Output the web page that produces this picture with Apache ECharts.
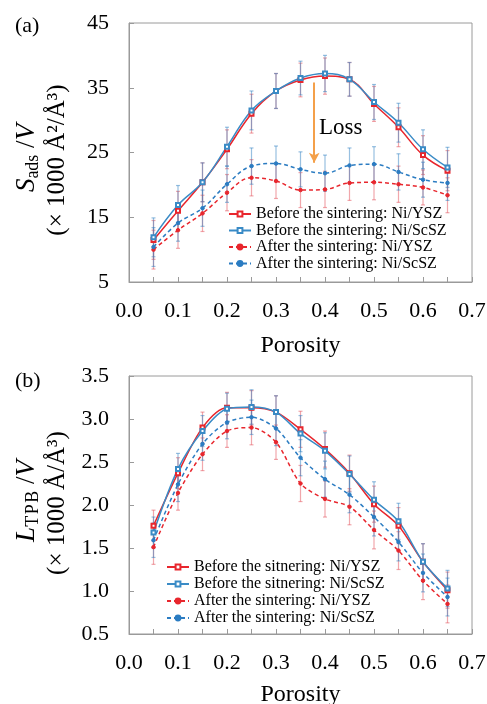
<!DOCTYPE html>
<html><head><meta charset="utf-8">
<script src="https://cdn.jsdelivr.net/npm/echarts@6/dist/echarts.min.js"></script>
<style>html,body{margin:0;padding:0;background:#fff}#c{width:487px;height:704px}</style>
</head><body><div id="c"></div>
<script>
const porosity = [0.05,0.10,0.15,0.20,0.25,0.30,0.35,0.40,0.45,0.50,0.55,0.60,0.65];
// (a) S_ads/V
const sBeforeYSZ  = [11.5,16.0,20.4,25.5,31.0,34.5,36.2,36.8,36.3,32.5,28.9,24.6,22.2];
const sBeforeScSZ = [11.9,16.9,20.4,25.9,31.5,34.5,36.5,37.2,36.3,32.8,29.6,25.5,22.7];
const sAfterYSZ   = [10.0,13.0,15.6,18.8,21.1,20.6,19.2,19.3,20.3,20.4,20.1,19.6,18.4];
const sAfterScSZ  = [10.4,14.1,16.4,20.1,22.9,23.3,22.4,21.8,23.0,23.2,22.0,20.8,20.3];
const sErrBefore  = [3.0,3.0,3.0,3.0,3.0,2.7,2.6,2.8,2.6,2.7,3.0,3.0,3.1];
const sErrAfter   = [3.0,2.8,2.8,2.8,2.8,2.7,2.7,2.8,2.7,2.7,2.8,2.7,2.7];
// (b) L_TPB/V
const lBeforeYSZ  = [1.76,2.37,2.90,3.13,3.13,3.08,2.88,2.65,2.37,2.01,1.76,1.34,1.01];
const lBeforeScSZ = [1.68,2.42,2.86,3.12,3.14,3.08,2.83,2.63,2.36,2.06,1.81,1.34,1.03];
const lAfterYSZ   = [1.51,2.14,2.59,2.86,2.90,2.73,2.25,2.07,1.98,1.71,1.47,1.12,0.85];
const lAfterScSZ  = [1.59,2.24,2.71,2.96,3.02,2.89,2.55,2.30,2.12,1.86,1.57,1.21,0.93];
const lErrBefore  = [0.18,0.18,0.18,0.18,0.20,0.19,0.21,0.21,0.21,0.21,0.21,0.21,0.21];
const lErrAfter   = [0.20,0.20,0.19,0.19,0.20,0.20,0.21,0.21,0.21,0.22,0.22,0.22,0.22];

const namesA = ['Before the sintering: Ni/YSZ','Before the sintering: Ni/ScSZ','After the sintering: Ni/YSZ','After the sintering: Ni/ScSZ'];
const namesB = ['Before the sitnering: Ni/YSZ','Before the sitnering: Ni/ScSZ','After the sintering: Ni/YSZ','After the sintering: Ni/ScSZ'];

const RED = '#e8262d', BLUE = '#3a8bc6', BLUE2 = '#2b7cc2';
const ERR_RED = 'rgba(228,80,90,0.5)', ERR_BLUE = 'rgba(50,130,195,0.5)';
const FONT = 'Liberation Serif';

const zip = (ys) => porosity.map((x,i)=>[x, ys[i]]);
const errData = (ys, es) => porosity.map((x,i)=>[x, ys[i]-es[i], ys[i]+es[i]]);

function errSeries(idx, ys, es, color){
  return {
    type:'custom', xAxisIndex:idx, yAxisIndex:idx, z:1, silent:true,
    data: errData(ys, es), encode:{x:0, y:[1,2]},
    renderItem:function(params, api){
      const lo = api.coord([api.value(0), api.value(1)]);
      const hi = api.coord([api.value(0), api.value(2)]);
      const w = 2;
      const st = {stroke: color, lineWidth: 1.2};
      return {type:'group', children:[
        {type:'line', shape:{x1:lo[0],y1:lo[1],x2:hi[0],y2:hi[1]}, style:st},
        {type:'line', shape:{x1:lo[0]-w,y1:lo[1],x2:lo[0]+w,y2:lo[1]}, style:st},
        {type:'line', shape:{x1:hi[0]-w,y1:hi[1],x2:hi[0]+w,y2:hi[1]}, style:st}
      ]};
    }
  };
}
function lineSeries(idx, name, ys, color, before, smooth){
  return {
    type:'line', name:name, xAxisIndex:idx, yAxisIndex:idx, z:3,
    data: zip(ys), smooth: smooth,
    symbol: before ? 'emptyRect' : 'circle', symbolSize: before ? 4 : 3.5,
    lineStyle:{color:color, width:1.5, type: before ? 'solid' : [4,3]},
    itemStyle:{color:color, borderColor:color, borderWidth:1},
    emphasis:{disabled:true}
  };
}

const axisGray = '#9a9a9a';
function xAxisCfg(idx, labelMargin, nameGap){
  return {
    type:'value', gridIndex:idx, min:0, max:0.7, interval:0.05,
    name:'Porosity', nameLocation:'middle', nameGap:nameGap,
    nameTextStyle:{fontFamily:FONT, fontSize:24, color:'#000'},
    axisLine:{lineStyle:{color:axisGray, width:1}},
    axisTick:{inside:true, length:5, lineStyle:{color:axisGray}},
    axisLabel:{fontFamily:FONT, fontSize:22, color:'#000', margin:labelMargin,
      formatter: v => (Math.round(v*100) % 10 === 0 ? v.toFixed(1) : '')},
    splitLine:{show:false}
  };
}
function yAxisCfg(idx, min, max, interval, dec){
  return {
    type:'value', gridIndex:idx, min:min, max:max, interval:interval,
    axisLine:{show:true, lineStyle:{color:axisGray, width:1}},
    axisTick:{show:true, inside:true, length:5, lineStyle:{color:axisGray}},
    axisLabel:{fontFamily:FONT, fontSize:22, color:'#000', margin:20,
      formatter: v => v.toFixed(dec)},
    splitLine:{show:false}
  };
}
const richT = {
  i:{fontFamily:FONT, fontSize:27, fontStyle:'italic', color:'#000'},
  n:{fontFamily:FONT, fontSize:27, color:'#000'},
  sub:{fontFamily:FONT, fontSize:18, color:'#000', padding:[13,0,0,0], verticalAlign:'bottom'}
};
function vText(x, y, text, size){
  return {type:'text', x:x, y:y, rotation:Math.PI/2, silent:true,
    style:{text:text, fontFamily:FONT, fontSize:size, fill:'#000', align:'center', verticalAlign:'middle', rich:richT}};
}

const chart = echarts.init(document.getElementById('c'), null, {renderer:'canvas'});
chart.setOption({
  backgroundColor:'#fff',
  animation:false,
  title:[
    {text:'(a)', left:10, top:10, textStyle:{fontFamily:FONT, fontSize:22, fontWeight:'normal', color:'#000'}},
    {text:'(b)', left:10, top:365, textStyle:{fontFamily:FONT, fontSize:22, fontWeight:'normal', color:'#000'}}
  ],
  grid:[
    {left:129, top:23, width:343, height:259, show:true, borderColor:axisGray, borderWidth:1, backgroundColor:'transparent', outerBoundsMode:'none', containLabel:false},
    {left:129, top:376, width:343, height:258, show:true, borderColor:axisGray, borderWidth:1, backgroundColor:'transparent', outerBoundsMode:'none', containLabel:false}
  ],
  xAxis:[xAxisCfg(0, 18, 52), xAxisCfg(1, 18, 49)],
  yAxis:[yAxisCfg(0, 5, 45, 10, 0), yAxisCfg(1, 0.5, 3.5, 0.5, 1)],
  legend:[
    {data:namesA, orient:'vertical', left:223, top:201, itemWidth:22, itemHeight:6, itemGap:0.5, padding:5,
     textStyle:{fontFamily:FONT, fontSize:16, color:'#000', lineHeight:16}, selectedMode:false},
    {data:namesB, orient:'vertical', left:161, top:554, itemWidth:22, itemHeight:6, itemGap:1, padding:5,
     textStyle:{fontFamily:FONT, fontSize:16, color:'#000', lineHeight:16}, selectedMode:false}
  ],
  series:[
    errSeries(0, sBeforeYSZ, sErrBefore, ERR_RED),
    errSeries(0, sBeforeScSZ, sErrBefore, ERR_BLUE),
    errSeries(0, sAfterYSZ, sErrAfter, ERR_RED),
    errSeries(0, sAfterScSZ, sErrAfter, ERR_BLUE),
    Object.assign(lineSeries(0, namesA[0], sBeforeYSZ, RED, true, 0.4), {
      markLine:{silent:true, symbol:['none','arrow'], symbolSize:[8,10], label:{show:false},
        lineStyle:{color:'#f4a04a', width:2, type:'solid'},
        data:[[{coord:[0.378,35.8]},{coord:[0.378,23.4]}]]}
    }),
    lineSeries(0, namesA[1], sBeforeScSZ, BLUE, true, 0.4),
    lineSeries(0, namesA[2], sAfterYSZ, RED, false, 0.4),
    lineSeries(0, namesA[3], sAfterScSZ, BLUE2, false, 0.4),
    errSeries(1, lBeforeYSZ, lErrBefore, ERR_RED),
    errSeries(1, lBeforeScSZ, lErrBefore, ERR_BLUE),
    errSeries(1, lAfterYSZ, lErrAfter, ERR_RED),
    errSeries(1, lAfterScSZ, lErrAfter, ERR_BLUE),
    lineSeries(1, namesB[0], lBeforeYSZ, RED, true, 0.3),
    lineSeries(1, namesB[1], lBeforeScSZ, BLUE, true, 0.3),
    lineSeries(1, namesB[2], lAfterYSZ, RED, false, 0.3),
    lineSeries(1, namesB[3], lAfterScSZ, BLUE2, false, 0.3)
  ],
  graphic:[
    {type:'text', left:319, top:116, style:{text:'Loss', fontFamily:FONT, fontSize:23, fill:'#000'}},
    vText(27, 158, '{i|S}{sub|ads}{n| /}{i|V}', 27),
    vText(57, 160, '(× 1000 Å²/Å³)', 25),
    vText(27, 501, '{i|L}{sub|T\u200AP\u200AB}{n| /}{i|V}', 27),
    vText(57, 503, '(× 1000 Å/Å³)', 25)
  ]
});
</script></body></html>
